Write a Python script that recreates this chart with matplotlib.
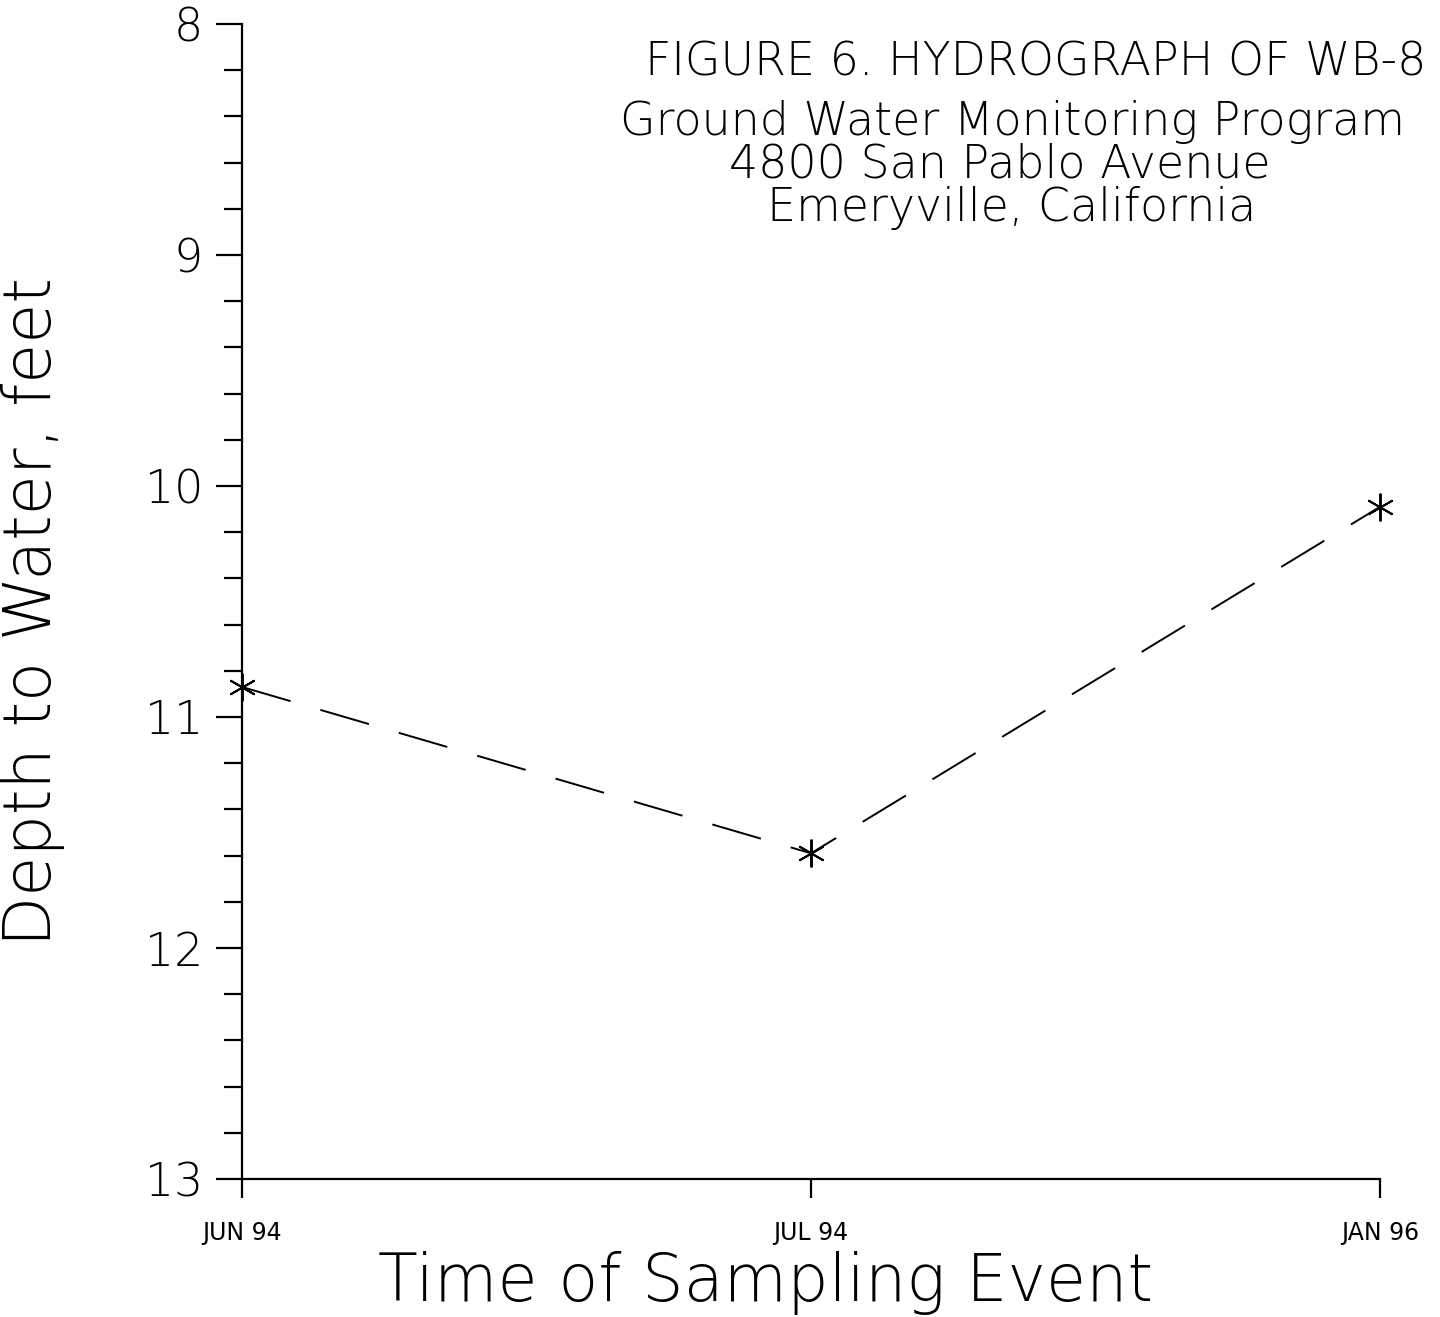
import matplotlib
matplotlib.use("Agg")
import matplotlib.pyplot as plt
from matplotlib.ticker import MultipleLocator

dates = ["JUN 94", "JUL 94", "JAN 96"]
depth = [10.87, 11.59, 10.09]
y_ticks = [8, 9, 10, 11, 12, 13]

plt.rcParams['font.family'] = ['DejaVu Sans']

W, H = 1440, 1317
fig = plt.figure(figsize=(W / 100, H / 100), dpi=100)
ax = fig.add_axes([242/W, 138/H, (1380-242)/W, (1179-24)/H])

x = list(range(len(dates)))
ax.plot(x, depth, color='black', linestyle=(0, (26, 16)), linewidth=1.4, clip_on=False)
ax.plot(x, depth, linestyle='none', marker=(6, 2, 0), markersize=20,
        markeredgecolor='black', markeredgewidth=1.4, color='black', clip_on=False)

ax.set_xlim(0, 2)
ax.set_ylim(13, 8)
ax.set_yticks(y_ticks)
ax.set_yticklabels([str(v) for v in y_ticks], fontsize=33, fontweight='light')
ax.yaxis.set_minor_locator(MultipleLocator(0.2))
ax.set_xticks(x)
ax.set_xticklabels(dates, fontsize=17)

for s in ['top', 'right']:
    ax.spines[s].set_visible(False)
for s in ['left', 'bottom']:
    ax.spines[s].set_linewidth(1.6)

ax.tick_params(axis='y', which='major', direction='out', length=19, width=1.6, pad=9)
ax.tick_params(axis='y', which='minor', direction='out', length=13, width=1.6)
ax.tick_params(axis='x', which='major', direction='out', length=14, width=1.6, pad=16)

fig.text(33/W, 1-612/H, "Depth to Water, feet", fontsize=47, fontweight='light',
         rotation=90, ha='center', va='center')
fig.text(765/W, 1-1301/H, "Time of Sampling Event", fontsize=47, fontweight='light',
         ha='center', va='baseline')

fig.text(645/W, 1-62/H, "FIGURE 6. HYDROGRAPH OF WB-8", fontsize=33,
         fontweight='light', ha='left', va='center')
fig.text(620/W, 1-122/H, "Ground Water Monitoring Program", fontsize=33,
         fontweight='light', ha='left', va='center')
fig.text(1000/W, 1-165/H, "4800 San Pablo Avenue", fontsize=33,
         fontweight='light', ha='center', va='center')
fig.text(1012/W, 1-208/H, "Emeryville, California", fontsize=33,
         fontweight='light', ha='center', va='center')

fig.savefig("out.png", dpi=100, facecolor='white')
